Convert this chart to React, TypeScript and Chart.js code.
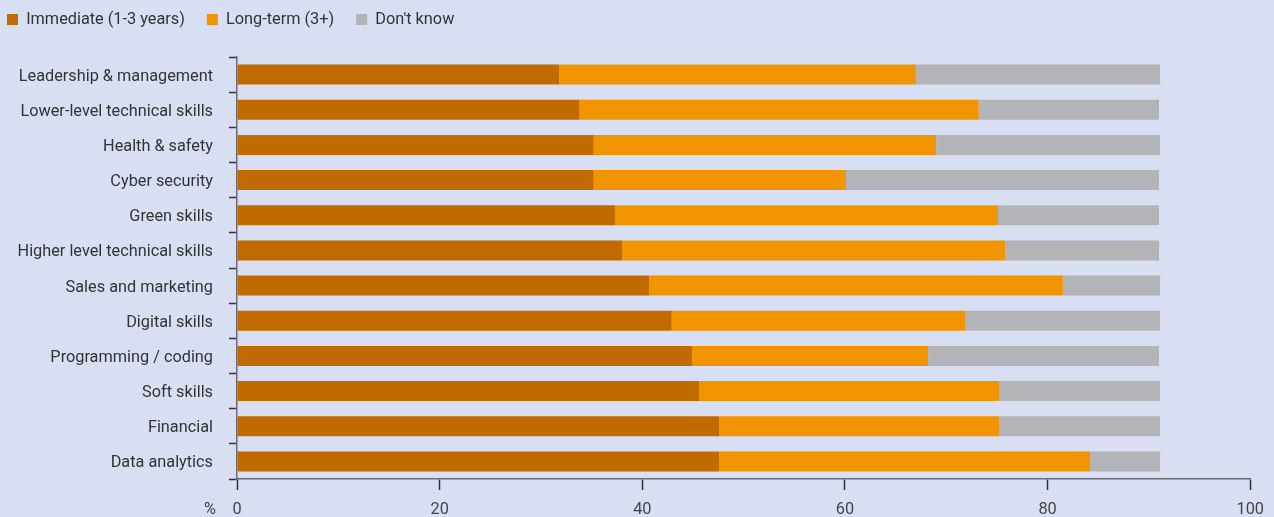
import React, { useEffect, useRef } from 'react';
import { Chart, registerables } from 'chart.js';

Chart.register(...registerables);

const categories = [
  'Leadership & management',
  'Lower-level technical skills',
  'Health & safety',
  'Cyber security',
  'Green skills',
  'Higher level technical skills',
  'Sales and marketing',
  'Digital skills',
  'Programming / coding',
  'Soft skills',
  'Financial',
  'Data analytics',
];

const immediate = [31.8, 33.8, 35.2, 35.2, 37.3, 38.0, 40.7, 42.9, 44.9, 45.6, 47.6, 47.6];
const longTerm = [35.2, 39.4, 33.8, 24.9, 37.8, 37.8, 40.8, 29.0, 23.3, 29.6, 27.6, 36.6];
const dontKnow = [24.1, 17.8, 22.1, 30.9, 15.9, 15.2, 9.6, 19.2, 22.8, 15.9, 15.9, 6.9];

const seriesNames = ['Immediate (1-3 years)', 'Long-term (3+)', "Don't know"];
const xTickValues = [0, 20, 40, 60, 80, 100];
const axisUnit = '%';

const BG = '#d9dff2';
const COLORS = ['#c06a00', '#f29400', '#b3b4b8'];
const TEXT = '#333333';
const FS = 16.3;

export default function App() {
  const canvasRef = useRef<HTMLCanvasElement | null>(null);

  useEffect(() => {
    document.body.style.margin = '0';
    document.body.style.background = BG;
    const canvas = canvasRef.current;
    if (!canvas) return;

    const legendSpacer = {
      id: 'legendSpacer',
      beforeInit(chart: any) {
        const legend = chart.legend;
        if (!legend) return;
        const fit = legend.fit;
        legend.fit = function () {
          fit.call(this);
          this.height += 19.35;
        };
      },
    };

    const unitLabel = {
      id: 'unitLabel',
      afterDraw(chart: any) {
        const x = chart.scales.x;
        const ctx = chart.ctx;
        ctx.save();
        ctx.font = `${FS}px Roboto`;
        ctx.fillStyle = '#444444';
        ctx.textAlign = 'center';
        ctx.textBaseline = 'middle';
        ctx.fillText(axisUnit, x.getPixelForValue(0) - 27, x.top + 31);
        ctx.restore();
      },
    };

    const datasets = [immediate, longTerm, dontKnow].map((d, i) => ({
      label: seriesNames[i],
      data: d,
      backgroundColor: COLORS[i],
      borderWidth: 0,
      barPercentage: 0.57,
      categoryPercentage: 1,
    }));

    const chart = new Chart(canvas, {
      type: 'bar',
      data: { labels: categories, datasets },
      options: {
        indexAxis: 'y',
        animation: false,
        responsive: false,
        maintainAspectRatio: false,
        layout: { padding: { left: -15, top: -10.65, right: 23, bottom: 0 } },
        font: { family: 'Roboto', size: FS },
        plugins: {
          legend: {
            position: 'top',
            align: 'start',
            labels: {
              boxWidth: 11,
              boxHeight: 11,
              padding: 22,
              color: TEXT,
              font: { family: 'Roboto', size: FS },
            },
          },
          tooltip: { enabled: false },
        },
        scales: {
          x: {
            type: 'linear',
            stacked: true,
            min: 0,
            max: 100,
            afterBuildTicks(scale: any) {
              scale.ticks = xTickValues.map((v) => ({ value: v }));
            },
            afterFit(scale: any) {
              scale.height = 38;
            },
            grid: {
              drawOnChartArea: false,
              drawTicks: true,
              tickLength: 11,
              tickColor: '#333333',
              tickWidth: 1.5,
            },
            border: { color: '#6b6b78', width: 1.5 },
            ticks: {
              color: '#444444',
              padding: 10,
              font: { family: 'Roboto', size: FS },
            },
          },
          y: {
            type: 'category',
            stacked: true,
            afterFit(scale: any) {
              scale.width = 252;
            },
            grid: {
              drawOnChartArea: false,
              drawTicks: true,
              tickLength: 8,
              tickColor: '#333333',
              tickWidth: 1.5,
              offset: true,
            },
            border: { color: '#6b6b78', width: 1.5 },
            ticks: {
              color: TEXT,
              padding: 16,
              labelOffset: 2,
              font: { family: 'Roboto', size: FS },
            },
          },
        },
      },
      plugins: [legendSpacer, unitLabel],
    } as any);

    return () => {
      chart.destroy();
    };
  }, []);

  return (
    <div style={{ width: 1274, height: 517, background: BG }}>
      <canvas ref={canvasRef} width={1274} height={517} style={{ display: 'block' }} />
    </div>
  );
}
